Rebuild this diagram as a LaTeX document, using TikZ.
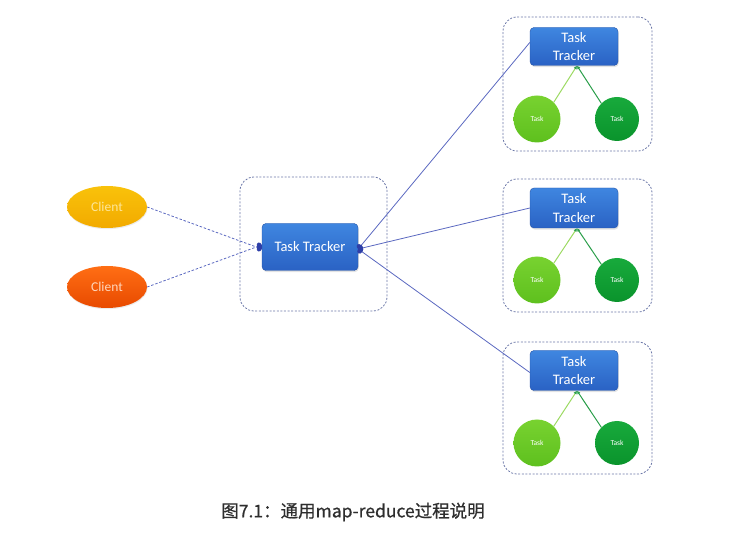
\documentclass[tikz,border=0pt]{standalone}
\usepackage{fontspec}
\setmainfont{Carlito}
\newfontfamily\cjk[FakeBold=0.7]{Noto Sans CJK SC}
\usetikzlibrary{shapes.geometric,shadows,arrows.meta}
\definecolor{grpc}{HTML}{6C78A8}
\definecolor{lnc}{HTML}{5A68C0}
\definecolor{lnd}{HTML}{2E3FA8}
\definecolor{ttA}{HTML}{3F86E0}
\definecolor{ttB}{HTML}{2A62C4}
\definecolor{yelA}{HTML}{F9C20A}
\definecolor{yelB}{HTML}{F2AA00}
\definecolor{yelT}{HTML}{FDE69A}
\definecolor{orA}{HTML}{FF6E14}
\definecolor{orB}{HTML}{E84A00}
\definecolor{orT}{HTML}{FFD6BC}
\definecolor{lgA}{HTML}{78D230}
\definecolor{lgB}{HTML}{5EC01E}
\definecolor{dgA}{HTML}{18AA3C}
\definecolor{dgB}{HTML}{0A942C}
\definecolor{lgl}{HTML}{9CDA62}
\definecolor{dgl}{HTML}{2A9E4A}
\definecolor{capc}{HTML}{2E2E2E}
\begin{document}
\begin{tikzpicture}[x=1pt,y=-1pt,
  grp/.style={draw=grpc, dash pattern=on 2pt off 1.6pt, line width=0.8pt, rounded corners=14pt, inner sep=0pt},
  ttbox/.style={rectangle, rounded corners=4pt, top color=ttA, bottom color=ttB, draw=ttB!85!black, line width=0.4pt,
    text=white, align=center, inner sep=0pt, font=\fontsize{14.5}{18.5}\selectfont,
    drop shadow={opacity=0.22, shadow xshift=0.8pt, shadow yshift=-1.6pt}},
  client/.style={ellipse, minimum width=80pt, minimum height=42pt, inner sep=0pt, font=\fontsize{13.5}{15}\selectfont,
    drop shadow={opacity=0.15, shadow xshift=0.5pt, shadow yshift=-1.2pt}},
  task/.style={circle, inner sep=0pt, text=white, font=\fontsize{7.5}{8}\selectfont},
  cdash/.style={draw=lnc, dash pattern=on 2.5pt off 1.8pt, line width=0.8pt, -{Ellipse[length=5pt,width=7pt,fill=lnd,color=lnd]}},
  link/.style={draw=lnc, line width=0.8pt, {Ellipse[length=5pt,width=7pt,fill=lnd,color=lnd]}-},
  glink/.style={line width=1pt}
]
\useasboundingbox (0,0) rectangle (740,537);

% group frames
\node[grp, minimum width=147pt, minimum height=134pt] (g0) at (313.5,244) {};
\node[grp, minimum width=149pt, minimum height=134pt] (g1) at (577.5,84) {};
\node[grp, minimum width=149pt, minimum height=133pt] (g2) at (577.5,245.5) {};
\node[grp, minimum width=149pt, minimum height=132pt] (g3) at (577.5,408) {};

% clients
\node[client, top color=yelA, bottom color=yelB, text=yelT] (c1) at (107,207) {Client};
\node[client, top color=orA, bottom color=orB, text=orT] (c2) at (107,287) {Client};

% central tracker
\node[ttbox, minimum width=96pt, minimum height=47pt] (ct) at (310,247) {Task Tracker};

% right trackers
\node[ttbox, minimum width=88pt, minimum height=38pt] (t1) at (574,46.5) {Task\\Tracker};
\node[ttbox, minimum width=88pt, minimum height=40pt] (t2) at (574,208) {Task\\Tracker};
\node[ttbox, minimum width=88pt, minimum height=40pt] (t3) at (574,370.5) {Task\\Tracker};

% tasks
\node[task, minimum size=47pt, top color=lgA, bottom color=lgB] (a1) at (537,119) {Task};
\node[task, minimum size=44pt, top color=dgA, bottom color=dgB] (b1) at (617,119) {Task};
\node[task, minimum size=47pt, top color=lgA, bottom color=lgB] (a2) at (537,280) {Task};
\node[task, minimum size=44pt, top color=dgA, bottom color=dgB] (b2) at (617,280) {Task};
\node[task, minimum size=47pt, top color=lgA, bottom color=lgB] (a3) at (537,443) {Task};
\node[task, minimum size=44pt, top color=dgA, bottom color=dgB] (b3) at (617,443) {Task};

% client connectors
\draw[cdash] (c1.east) -- ([yshift=-2pt]ct.west);
\draw[cdash] (c2.east) -- ([yshift=2pt]ct.west);

% tracker links
\draw[link] ([yshift=-2pt]ct.east) -- ([yshift=4pt]t1.west);
\draw[link] ([yshift=-2pt]ct.east) -- (t2.west);
\draw[link] ([yshift=-2pt]ct.east) -- ([yshift=-2pt]t3.west);

% task links
\foreach \i in {1,2,3}{
  \draw[glink, draw=lgl, -{Latex[length=3.5pt,width=3.5pt,color=dgl]}] (a\i.north east) -- ([xshift=3pt]t\i.south);
  \draw[glink, draw=dgl, -{Latex[length=3.5pt,width=3.5pt,color=dgl]}] (b\i.north west) -- ([xshift=3pt]t\i.south);
}

% caption
\node[text=capc, font=\cjk\fontsize{17.5}{20}\selectfont] (cap) at (353,512) {图7.1：通用map-reduce过程说明};
\end{tikzpicture}
\end{document}
